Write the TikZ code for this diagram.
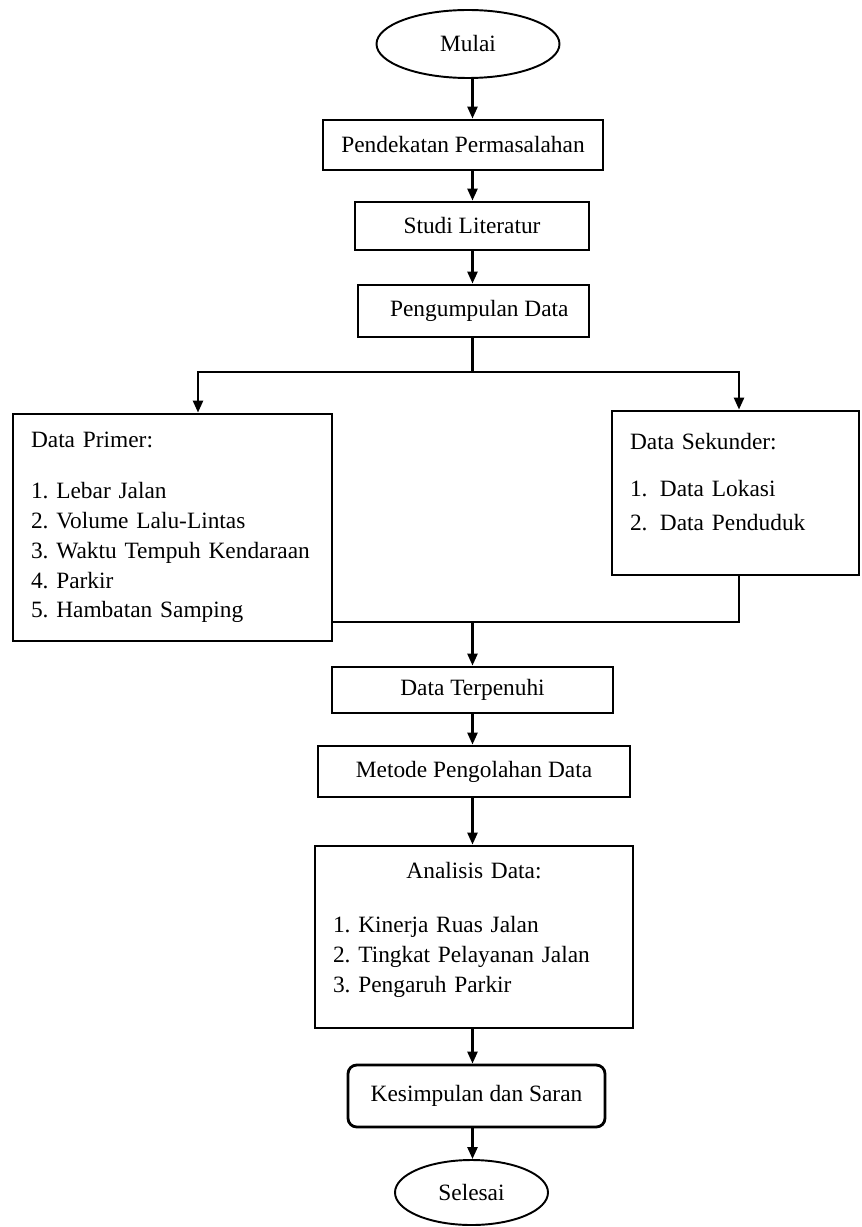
\documentclass[tikz,border=0pt]{standalone}
\usepackage{fontspec}
\setmainfont{Liberation Serif}
\usetikzlibrary{arrows.meta, shapes.geometric, calc}

\begin{document}
\frenchspacing
\begin{tikzpicture}[
      font=\fontsize{13.3}{17}\selectfont,
      terminal/.style={draw, ellipse, line width=1.1pt, inner sep=0pt},
      stepbox/.style={draw, rectangle, line width=1.6pt, inner sep=0pt},
      listbox/.style={draw, rectangle, line width=1.6pt, inner xsep=0.36cm, inner ysep=0pt, align=left},
      flow/.style={line width=1.4pt, -{Triangle[length=0.24cm, width=0.2cm]}},
      link/.style={line width=1.4pt}
   ]
      \useasboundingbox (0,0) rectangle (17.22,-24.54);
      % Start and first steps
      \node[terminal, minimum width=3.66cm, minimum height=1.36cm] (start) at (9.36,-0.88) {Mulai};
      \node[stepbox, minimum width=5.6cm, minimum height=1.0cm] (approach) at (9.26,-2.9) {Pendekatan Permasalahan};
      \node[stepbox, minimum width=4.68cm, minimum height=0.96cm] (literature) at (9.44,-4.52) {Studi Literatur};
      \node[stepbox, minimum width=4.62cm, minimum height=1.04cm] (collect) at (9.47,-6.22) {\hspace{0.5em}Pengumpulan Data};
      % Data boxes
      \node[listbox, text width=5.66cm, minimum height=4.54cm] (primary) at (3.45,-10.55)
         {Data Primer:\\[12pt]
          1. Lebar Jalan\\
          2. Volume Lalu-Lintas\\
          3. Waktu Tempuh Kendaraan\\
          4. Parkir\\
          5. Hambatan Samping};
      \node[listbox, text width=4.22cm, minimum height=3.28cm] (secondary) at (14.71,-9.86)
         {Data Sekunder:\\[10pt]
          \makebox[0.6cm][l]{1.}Data Lokasi\\[2pt]
          \makebox[0.6cm][l]{2.}Data Penduduk\\[-0.15cm]
          \mbox{}};
      % Processing
      \node[stepbox, minimum width=5.62cm, minimum height=0.92cm] (fulfilled) at (9.45,-13.8) {Data Terpenuhi};
      \node[stepbox, minimum width=6.24cm, minimum height=1.02cm] (method) at (9.48,-15.43) {Metode Pengolahan Data};
      \node[listbox, text width=5.64cm, minimum height=3.64cm] (analysis) at (9.48,-18.74)
         {\hbox to \hsize{\hfil Analisis Data:\hfil}\\[14pt]
          1. Kinerja Ruas Jalan\\
          2. Tingkat Pelayanan Jalan\\
          3. Pengaruh Parkir\\[-0.2cm]
          \mbox{}};
      \node[stepbox, rounded corners=5pt, minimum width=5.14cm, minimum height=1.24cm] (conclusion) at (9.53,-21.92) {Kesimpulan dan Saran};
      \node[terminal, minimum width=3.06cm, minimum height=1.3cm] (stop) at (9.43,-23.85) {Selesai};
      % Main column and bends
      \coordinate (axis) at (9.45,0);
      \coordinate (split) at (9.45,-7.44);
      \coordinate (join) at (9.45,-12.44);
      \draw[flow] (axis |- start.south) -- (axis |- approach.north);
      \draw[flow] (axis |- approach.south) -- (axis |- literature.north);
      \draw[flow] (axis |- literature.south) -- (axis |- collect.north);
      \draw[link] (axis |- collect.south) -- (split);
      \draw[flow] (split) -| ([xshift=0.51cm]primary.north);
      \draw[flow] (split) -| ([xshift=0.07cm]secondary.north);
      \draw[link] ([xshift=0.07cm]secondary.south) |- (join -| primary.east);
      \draw[flow] (join) -- (axis |- fulfilled.north);
      \draw[flow] (axis |- fulfilled.south) -- (axis |- method.north);
      \draw[flow] (axis |- method.south) -- (axis |- analysis.north);
      \draw[flow] (axis |- analysis.south) -- (axis |- conclusion.north);
      \draw[flow] (axis |- conclusion.south) -- (axis |- stop.north);
\end{tikzpicture}
\end{document}
